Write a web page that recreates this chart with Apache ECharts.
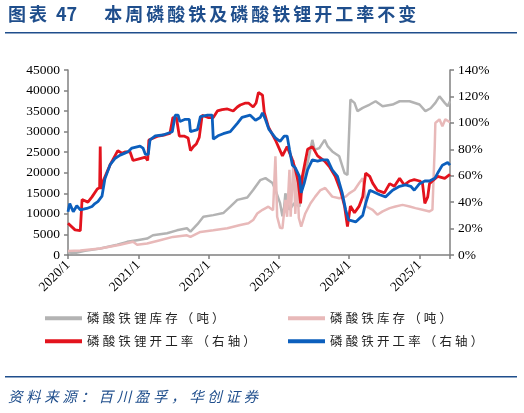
<!DOCTYPE html>
<html><head><meta charset="utf-8">
<script src="https://cdn.jsdelivr.net/npm/echarts@6/dist/echarts.min.js"></script>
<style>html,body{margin:0;padding:0;background:#fff}#c{width:524px;height:413px}</style>
</head><body><div id="c"></div>
<script>
// x values: months since 2020/1
const xTickLabels = ['2020/1','2021/1','2022/1','2023/1','2024/1','2025/1'];
const rightTicks = ['0%','20%','40%','60%','80%','100%','120%','140%'];

const lfpInvT = [0,1.2,2.9,5.5,8.4,10.1,11.8,13.5,14.5,16.9,18.6,20.3,20.9,22.1,23.1,24.8,26.5,27.7,28.9,30.6,31.6,32.8,33.7,34.9,35.4,36.2,36.6,36.9,37.1,37.8,38.6,39.5,40.0,40.9,41.7,42.1,42.9,43.8,44.3,45.1,46.3,47.2,47.7,48.0,48.2,48.9,49.4,50.3,51.5,52.5,53.7,55.4,56.6,58.3,60.0,61.0,61.9,62.7,63.4,64.3,64.8,65.2];
const lfpInvV = [600,500,1000,1600,2500,3200,3600,4000,4800,5300,6000,6500,5700,7500,9300,9700,10200,11750,13400,14000,15800,18200,18700,17500,15800,12600,9400,11800,15000,11000,12600,11800,17500,22400,28000,25600,26000,28000,26500,25200,24000,19900,19500,19800,37800,37000,35000,35800,36600,37400,36200,36600,37400,37400,36600,35000,35700,37000,38600,37000,36200,37400];

const fpInvT = [0,2.1,5.5,8.9,11.1,11.8,13.5,15.7,17.9,20.3,20.9,22.6,24.8,27.2,29.4,30.8,31.6,32.3,33.2,34.2,35.0,35.4,35.7,36.2,36.6,37.1,37.4,37.8,38.0,38.5,38.8,39.1,39.4,39.8,40.5,41.4,42.2,43.1,43.9,45.1,46.3,47.4,48.0,48.9,49.7,50.3,50.6,50.9,52.0,52.8,53.7,54.9,55.9,57.1,58.3,59.3,60.5,61.7,62.2,62.6,62.7,63.4,63.9,64.4,65.2];
const fpInvV = [1000,1100,1600,2500,3200,2500,2800,3600,4400,4800,4400,5600,6000,6500,7300,7700,8500,10100,11000,11750,10900,24000,9300,6600,6500,13400,9300,20700,9300,23100,10000,19900,9000,6900,10100,12600,14200,15800,16300,14200,13800,14200,15000,15800,17500,18700,16000,11800,11000,9800,10600,11400,11800,12200,11800,11400,11000,10600,11000,26500,32100,33000,31300,33000,32300];

const lfpRateT = [0,1.2,2.1,2.4,3.4,4.1,5.0,5.4,5.5,5.6,6.0,7.2,8.5,9.2,9.7,10.6,11.1,12.3,13.2,13.6,13.8,15.4,16.6,17.4,17.9,18.5,19.0,19.8,20.5,20.9,21.4,21.9,22.4,22.9,23.9,24.8,25.5,26.3,27.2,28.2,28.9,29.4,30.3,30.8,31.6,32.1,32.5,32.8,33.2,33.5,34.2,35.4,36.6,37.4,38.3,38.8,39.3,39.7,40.0,40.9,41.7,42.6,43.8,44.6,45.6,46.5,47.2,47.7,48.2,48.9,49.7,50.3,50.8,51.5,52.0,52.8,54.0,54.9,55.7,56.6,57.4,58.3,59.1,60.0,60.5,60.9,61.4,61.7,62.2,63.1,64.3,65.2];
const lfpRateV = [24,19,18.5,42,40,44,50,51,82,50,56,68.4,79,77,78,78,71.5,73,74,71.5,87,90,91,92,104,104,90,90,88.5,79,82,84,89,105.8,104,104,109,110,110.5,109,112,113.5,115,115,112,115,123,123.5,121,108,97,87,75,82,72,65,55,39,59.5,80,82,75,71,67,59.5,49,37,21.5,37,32,37,44,62,59.5,54.4,49,47,54,52,58,53,56,57,56,54.4,39,44,54,56,59.5,58,61];

const fpRateT = [0,0.3,0.9,1.5,2.1,3.2,4.1,4.6,5.1,5.8,6.3,7.2,8.0,8.9,9.7,10.3,10.9,12.3,12.8,13.2,13.7,14.0,14.9,16.2,17.8,18.3,18.8,19.1,20.0,20.7,20.9,22.1,22.6,23.8,24.6,24.8,25.6,26.5,27.7,28.9,29.7,31.1,32.0,32.8,33.2,33.7,34.3,35.4,36.2,36.9,37.4,37.8,38.3,38.8,39.5,39.8,40.3,40.9,41.7,42.6,43.4,44.3,45.1,46.0,46.8,47.4,47.9,49.1,50.3,50.8,51.5,52.0,53.2,54.2,55.4,56.6,57.6,58.5,59.1,60.0,60.9,61.7,62.6,63.1,63.9,64.8,65.2];
const fpRateV = [32.7,38.9,32.7,37.3,34.2,35.2,36.7,38.9,40.4,44.5,57.6,68.4,73,75.6,77.1,78.4,80.9,82.4,80.9,76.2,76.2,87.1,90.2,90.8,93.3,105.8,105.8,101,102.7,102.7,93.3,94.9,104.8,105.8,105.8,87.7,90.2,91.8,93.3,99.6,104.2,105.8,102,104,107.6,102.5,95,88.6,86,90,90,80,68,66,59.5,47,54,64.5,72,71,72,72,64.5,59.5,47,34,26.6,25,30,39,49,48,45.6,44,49,52,53,52,49,54,56,56,58,62,68,70,68];

const names = ['磷酸铁锂库存（吨）','磷酸铁库存（吨）','磷酸铁锂开工率（右轴）','磷酸铁开工率（右轴）'];
const colors = ['#b3b3b3','#e8b9b9','#e3131d','#0c5fbd'];

const zip = (t, v) => t.map((x, i) => [x, v[i]]);
const spaced = s => s.split('').join('\u2005');

const chart = echarts.init(document.getElementById('c'), null, {renderer: 'canvas'});
const axisFont = {fontFamily: '"Liberation Serif", "Times New Roman", serif', fontSize: 13.5, color: '#000'};
const axisLine = {show: true, lineStyle: {color: '#808080', width: 1.5}};
const legendBase = {icon: 'rect', itemWidth: 37, itemHeight: 4, itemGap: 0, orient: 'horizontal', padding: 0,
  textStyle: {fontFamily: '"Noto Sans CJK SC", sans-serif', fontSize: 12.5, color: '#222'},
  formatter: spaced};

chart.setOption({
  animation: false,
  backgroundColor: '#fff',
  grid: {left: 68, right: 74, top: 70, bottom: 158},
  graphic: [
    {type: 'text', left: 8, top: 5, style: {text: '图\u2006表\u200247\u3000\u2002' + '本周磷酸铁及磷酸铁锂开工率不变'.split('').join('\u2006'),
      font: 'bold 18px "Noto Sans CJK SC", sans-serif', fill: '#1f4e8c'}},
    {type: 'rect', shape: {x: 5, y: 32, width: 512, height: 1.5}, style: {fill: '#1f4e8c'}},
    {type: 'rect', shape: {x: 5, y: 376, width: 512, height: 1.5}, style: {fill: '#1f4e8c'}},
    {type: 'text', left: 8, top: 389, style: {text: spaced('资料来源：百川盈孚，华创证券'),
      font: 'italic 14.5px "Noto Sans CJK SC", sans-serif', fill: '#1f4e8c'}}
  ],
  legend: [
    Object.assign({left: 45, top: 312, data: [names[0]]}, legendBase),
    Object.assign({left: 288, top: 312, data: [names[1]]}, legendBase),
    Object.assign({left: 45, top: 335, data: [names[2]]}, legendBase),
    Object.assign({left: 288, top: 335, data: [names[3]]}, legendBase)
  ],
  xAxis: {
    type: 'value', min: 0, max: 65.2, interval: 12,
    axisLine: axisLine, splitLine: {show: false},
    axisTick: {show: true, length: 4, lineStyle: {color: '#808080', width: 1.5}},
    axisLabel: Object.assign({rotate: 45, margin: 8,
      formatter: v => (Math.abs(v % 12) < 1e-6 ? xTickLabels[Math.round(v / 12)] : '')}, axisFont)
  },
  yAxis: [
    {type: 'value', min: 0, max: 45000, interval: 5000, position: 'left',
      axisLine: axisLine, splitLine: {show: false},
      axisTick: {show: true, length: 4, lineStyle: {color: '#808080', width: 1.5}},
      axisLabel: Object.assign({margin: 8, formatter: v => String(v)}, axisFont)},
    {type: 'value', min: 0, max: 140, interval: 20, position: 'right',
      axisLine: axisLine, splitLine: {show: false},
      axisTick: {show: true, length: 4, lineStyle: {color: '#808080', width: 1.5}},
      axisLabel: Object.assign({margin: 8, formatter: v => rightTicks[Math.round(v / 20)]}, axisFont)}
  ],
  series: [
    {name: names[0], type: 'line', yAxisIndex: 0, data: zip(lfpInvT, lfpInvV), showSymbol: false, symbol: 'none',
      lineStyle: {color: colors[0], width: 2.5}, itemStyle: {color: colors[0]}},
    {name: names[1], type: 'line', yAxisIndex: 0, data: zip(fpInvT, fpInvV), showSymbol: false, symbol: 'none',
      lineStyle: {color: colors[1], width: 2.5}, itemStyle: {color: colors[1]}},
    {name: names[2], type: 'line', yAxisIndex: 1, data: zip(lfpRateT, lfpRateV), showSymbol: false, symbol: 'none',
      lineStyle: {color: colors[2], width: 2.8}, itemStyle: {color: colors[2]}},
    {name: names[3], type: 'line', yAxisIndex: 1, data: zip(fpRateT, fpRateV), showSymbol: false, symbol: 'none',
      lineStyle: {color: colors[3], width: 2.8}, itemStyle: {color: colors[3]}}
  ]
});
</script></body></html>
